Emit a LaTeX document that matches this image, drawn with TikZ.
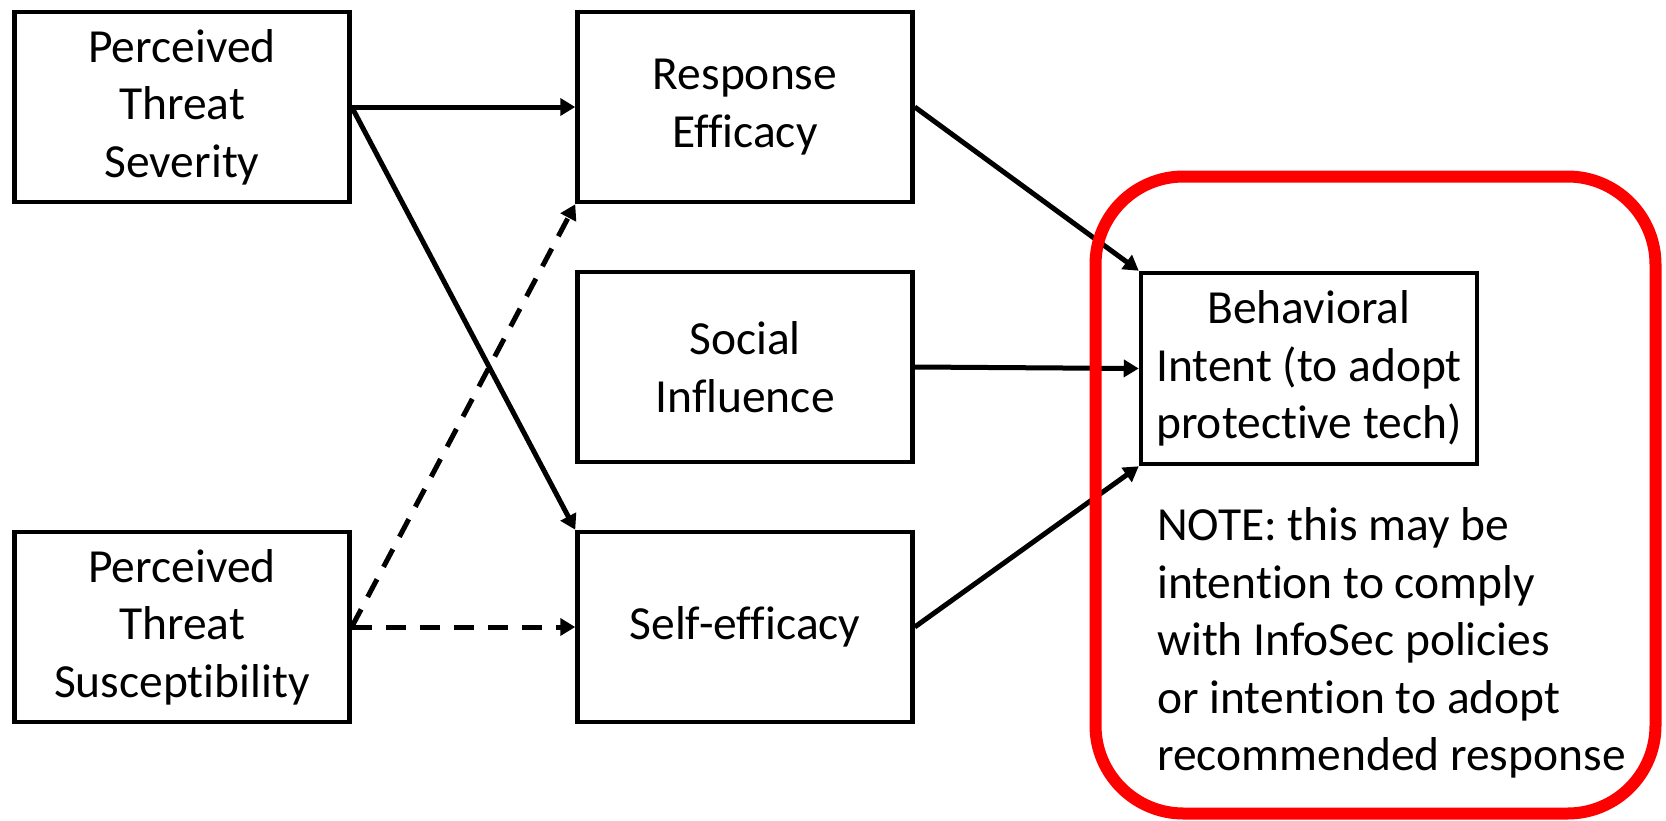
\documentclass[tikz,border=0pt]{standalone}
\usepackage{fontspec}
\setmainfont{Carlito}[Ligatures=NoCommon]
\usetikzlibrary{arrows.meta}
\begin{document}
\begin{tikzpicture}[x=1pt,y=-1pt,
  box/.style={draw, line width=4.5pt, minimum width=335pt, minimum height=190pt,
    align=center, inner sep=0pt, font=\fontsize{47.5}{57.5}\selectfont},
  conn/.style={line width=5pt, -{Triangle[length=15pt,width=17pt]}},
  dashconn/.style={conn, dash pattern=on 20pt off 14pt}]
\useasboundingbox (0,0) rectangle (1666,820);

% constructs
\node[box] (sev) at (182,107) {Perceived\\Threat\\Severity};
\node[box] (sus) at (182,627) {Perceived\\Threat\\Susceptibility};
\node[box] (re)  at (745,107) {Response\\Efficacy};
\node[box] (si)  at (745,367) {Social\\Influence};
\node[box] (se)  at (745,627) {Self-efficacy};
\node[box, minimum width=336pt, minimum height=191pt] (bi) at (1309,368.5)
  {Behavioral\\Intent (to adopt\\protective tech)};

% paths
\draw[conn] (sev.east) -- (re.west);
\draw[conn] (sev.east) -- (se.north west);
\draw[dashconn] (sus.east) -- (re.south west);
\draw[dashconn] (sus.east) -- (se.west);
\draw[conn] (re.east) -- (bi.north west);
\draw[conn] (si.east) -- (bi.west);
\draw[conn] (se.east) -- (bi.south west);

% note on the outcome variable
\node[anchor=west, align=left, inner sep=0pt, font=\fontsize{47.5}{57.5}\selectfont] (note) at (1157,643)
  {NOTE: this may be\\intention to comply\\with InfoSec policies\\or intention to adopt\\recommended response};

% highlight frame
\draw[red, line width=12pt, rounded corners=88pt] (1095.5,176.5) rectangle (1655.5,813.5);
\end{tikzpicture}
\end{document}
